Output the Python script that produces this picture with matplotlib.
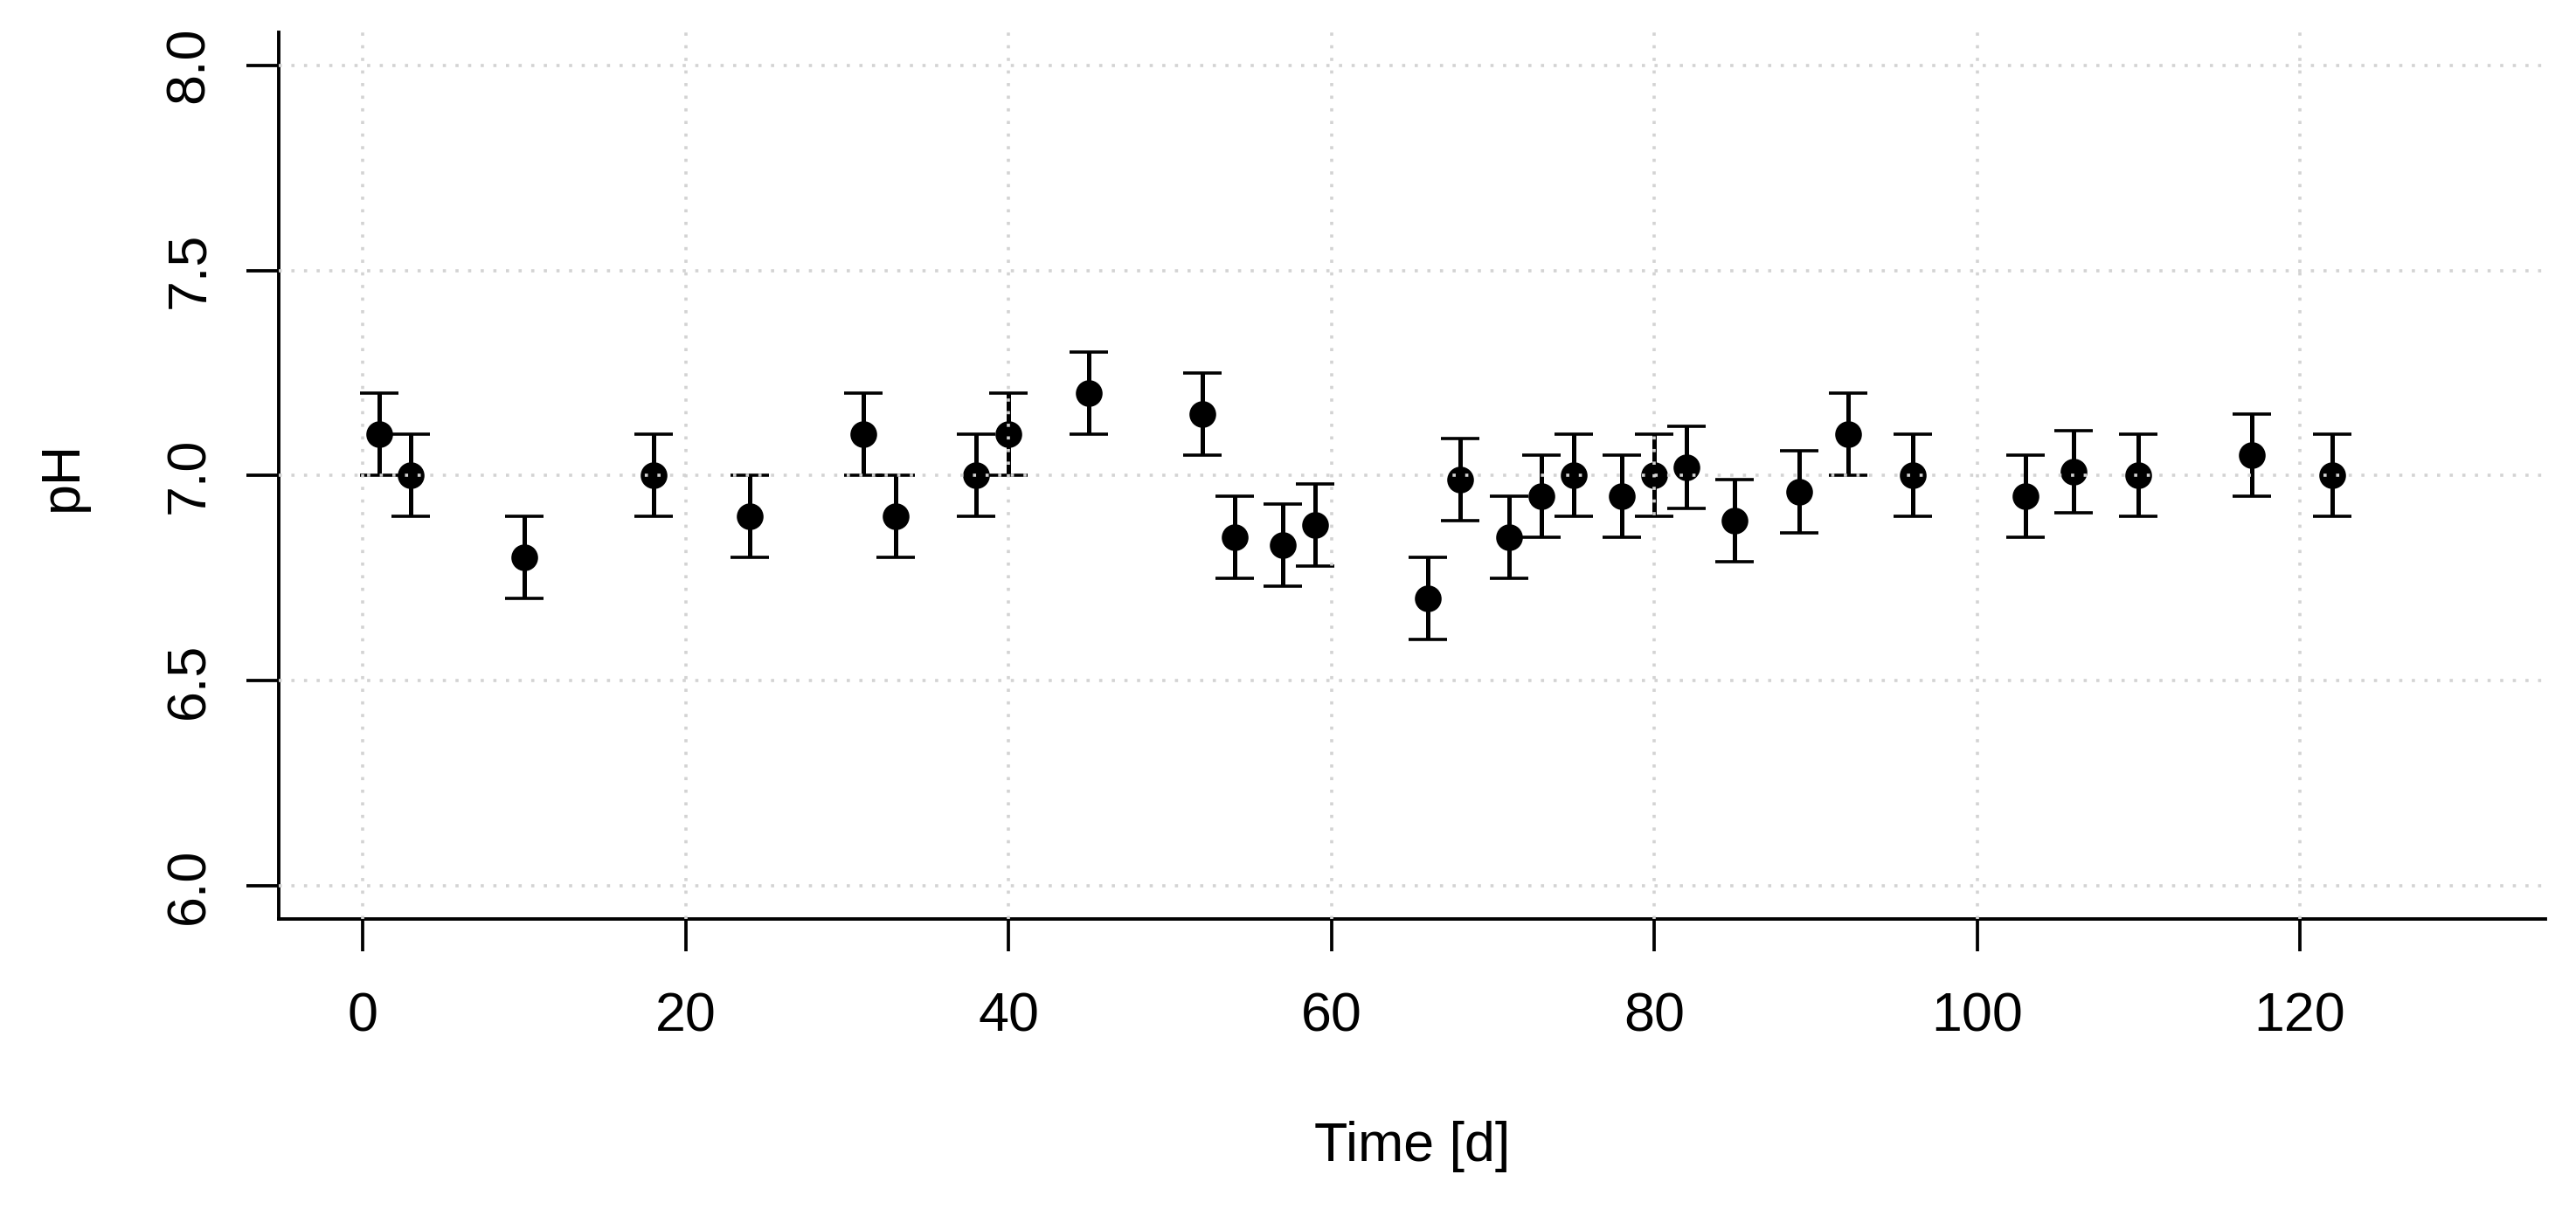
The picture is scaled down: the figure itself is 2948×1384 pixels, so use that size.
import matplotlib
matplotlib.use('Agg')
import matplotlib.pyplot as plt
import numpy as np

plt.rcParams['font.family'] = ['Liberation Sans', 'DejaVu Sans']

## data
time_d = [1, 3, 10, 18, 24, 31, 33, 38, 40, 45, 52, 54, 57, 59, 66, 68, 71, 73,
          75, 78, 80, 82, 85, 89, 92, 96, 103, 106, 110, 117, 122]
ph_mean = [7.10, 7.00, 6.80, 7.00, 6.90, 7.10, 6.90, 7.00, 7.10, 7.20, 7.15, 6.85,
           6.83, 6.88, 6.70, 6.99, 6.85, 6.95, 7.00, 6.95, 7.00, 7.02, 6.89, 6.96,
           7.10, 7.00, 6.95, 7.01, 7.00, 7.05, 7.00]
ph_err = [0.1] * len(time_d)

x_ticks = [0, 20, 40, 60, 80, 100, 120]
y_ticks = [6.0, 6.5, 7.0, 7.5, 8.0]
y_ticklabels = ['6.0', '6.5', '7.0', '7.5', '8.0']

fs = 22.6

fig = plt.figure(figsize=(14.74, 6.92), dpi=200)
ax = fig.add_axes([0.1082, 0.2399, 0.9881 - 0.1082, 0.9733 - 0.2399])

ax.errorbar(time_d, ph_mean, yerr=ph_err, fmt='o', color='black', ms=10,
            capsize=7.9, elinewidth=1.8, capthick=1.3)

# R-style 4% padding around xlim c(0,130), ylim c(6,8)
ax.set_xlim(0 - 0.04 * 130, 130 + 0.04 * 130)
ax.set_ylim(6 - 0.04 * 2, 8 + 0.04 * 2)

ax.set_xticks(x_ticks)
ax.set_yticks(y_ticks)
ax.set_yticklabels(y_ticklabels, rotation=90, va='center')

# grid drawn over the points like in R's grid()
ax.set_axisbelow(False)
ax.grid(True, color='lightgray', linestyle=(0, (1, 3)), linewidth=1.3)

for s in ['top', 'right']:
    ax.spines[s].set_visible(False)
for s in ['left', 'bottom']:
    ax.spines[s].set_linewidth(1.4)

ax.tick_params(axis='both', direction='out', length=13.3, width=1.35,
               labelsize=fs, color='black')
ax.tick_params(axis='x', pad=16.5)
ax.tick_params(axis='y', pad=13)

ax.set_xlabel('Time [d]', fontsize=fs, labelpad=32)
ax.set_ylabel('pH', fontsize=fs, labelpad=31)

plt.savefig('out.png', dpi=200)
plt.close()
